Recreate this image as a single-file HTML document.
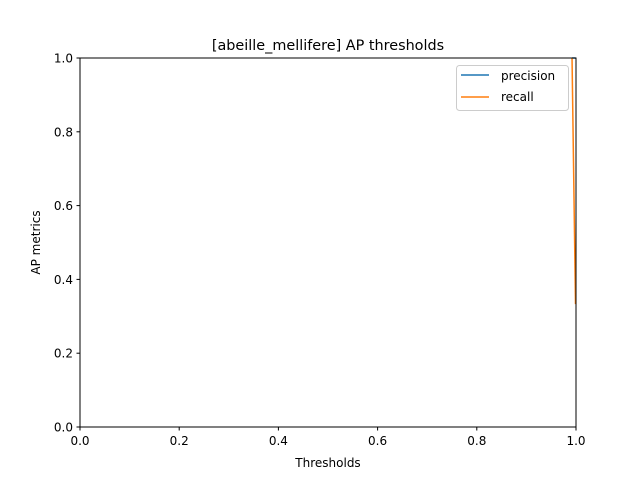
<!DOCTYPE html>
<html><head><meta charset="utf-8"><style>
body{margin:0;background:#fff;font-family:"DejaVu Sans","Liberation Sans",sans-serif}
</style></head><body>
<svg width="640" height="480" xmlns="http://www.w3.org/2000/svg">
<rect width="640" height="480" fill="#fff"/>
<text x="328" y="50" font-size="14.4" text-anchor="middle" font-family="DejaVu Sans, sans-serif">[abeille_mellifere] AP thresholds</text>
<g id="ticks" font-size="12" font-family="DejaVu Sans, sans-serif"></g>
<g id="series"></g>
<rect x="80" y="58" width="496" height="369" fill="none" stroke="#000" stroke-width="1"/>
<text x="328" y="467" font-size="12" text-anchor="middle" font-family="DejaVu Sans, sans-serif">Thresholds</text>
<text transform="translate(40,242.5) rotate(-90)" font-size="12" text-anchor="middle" font-family="DejaVu Sans, sans-serif">AP metrics</text>
<g>
<rect x="456.5" y="65.5" width="112" height="45" rx="3" fill="#fff" fill-opacity="0.8" stroke="#ccc"/>
<line x1="461" y1="75" x2="489" y2="75" stroke="#1f77b4" stroke-width="1.5"/>
<text x="501" y="80" font-size="12" font-family="DejaVu Sans, sans-serif">precision</text>
<line x1="461" y1="97" x2="489" y2="97" stroke="#ff7f0e" stroke-width="1.5"/>
<text x="501" y="101" font-size="12" font-family="DejaVu Sans, sans-serif">recall</text>
</g>
</svg>
<script>
const thresholds=[0.992,0.999];
const precision=[1.0,1.0];
const recall=[1.0,0.333];
const xTicks=["0.0","0.2","0.4","0.6","0.8","1.0"];
const yTicks=["0.0","0.2","0.4","0.6","0.8","1.0"];
const NS="http://www.w3.org/2000/svg";
const X=v=>80+v*496, Y=v=>427-v*369;
const tg=document.getElementById('ticks');
function mk(t,a,p){const e=document.createElementNS(NS,t);for(const k in a)e.setAttribute(k,a[k]);p.appendChild(e);return e;}
xTicks.forEach(s=>{const x=X(+s);
 const l=mk('line',{x1:x,x2:x,y1:427,y2:430.5,stroke:'#000'},tg);
 
 
 const t=mk('text',{x:x,y:445,'text-anchor':'middle'},tg);t.textContent=s;
 
 });
yTicks.forEach(s=>{const y=Y(+s);
 const l=mk('line',{x1:76.5,x2:80,y1:y,y2:y,stroke:'#000'},tg);
 
 
 const t=mk('text',{x:73,y:y+4.5,'text-anchor':'end'},tg);t.textContent=s;
 
 });
const sg=document.getElementById('series');
function line(vals,col,name){const p=mk('polyline',{points:vals.map((v,i)=>X(thresholds[i])+','+Y(v)).join(' '),fill:'none',stroke:col,'stroke-width':1.5},sg);
 
 }
line(precision,'#1f77b4','precision-line');
line(recall,'#ff7f0e','recall-line');
</script>
</body></html>
